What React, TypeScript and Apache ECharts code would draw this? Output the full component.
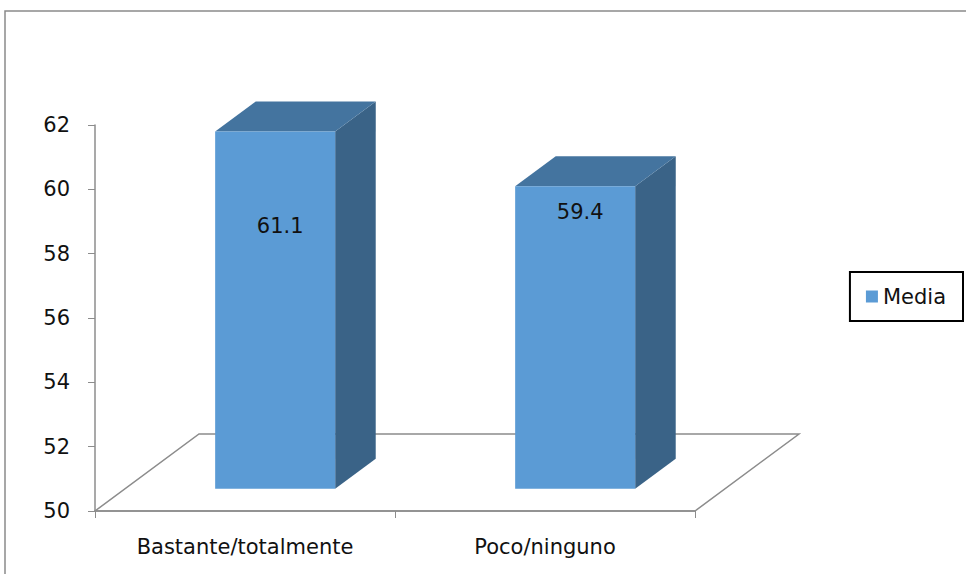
import React, { useEffect, useRef } from "react";
import * as echarts from "echarts";

// Mean score per response group
const categories = ["Bastante/totalmente", "Poco/ninguno"];
const seriesName = "Media";
const values = [61.1, 59.4];

// Value axis range
const axisMin = 50;
const axisMax = 62;
const axisStep = 2;

const FONT = "'DejaVu Sans', sans-serif";
const FONT_SIZE = 21;
const AXIS_GRAY = "#8c8c8c";
const FRONT = "#5b9bd5";
const TOP = "#44749f";
const SIDE = "#3a6387";

// Oblique projection of the floor depth (pixels for the full depth)
const DEPTH_X = 104;
const DEPTH_Y = -77;
// Bars occupy this slice of the floor depth
const BAR_FRONT = 0.29;
const BAR_BACK = 0.68;
// Vertical position of each value label below the bar top
const LABEL_DROP = [94, 26];

export default function App() {
  const ref = useRef<HTMLDivElement>(null);

  useEffect(() => {
    if (!ref.current) return;
    const chart = echarts.init(ref.current, null, { renderer: "svg" });

    const floorItem = (params: any) => {
      const cs = params.coordSys;
      const x0 = cs.x;
      const x1 = cs.x + cs.width;
      const y = cs.y + cs.height;
      return {
        type: "polygon",
        shape: {
          points: [
            [x0, y],
            [x1, y],
            [x1 + DEPTH_X, y + DEPTH_Y],
            [x0 + DEPTH_X, y + DEPTH_Y],
          ],
        },
        style: { fill: "none", stroke: AXIS_GRAY, lineWidth: 1.5 },
        silent: true,
      };
    };

    const barItem = (params: any, api: any) => {
      const idx = api.value(0);
      const val = api.value(1);
      const base = api.coord([idx, axisMin]);
      const top = api.coord([idx, val]);
      const bw = api.size([1, 0])[0] * 0.4;
      const fx = DEPTH_X * BAR_FRONT;
      const fy = DEPTH_Y * BAR_FRONT;
      const bx = DEPTH_X * BAR_BACK - fx;
      const by = DEPTH_Y * BAR_BACK - fy;
      const left = base[0] - bw / 2 + fx;
      const right = left + bw;
      const yb = base[1] + fy;
      const yt = top[1] + fy;
      return {
        type: "group",
        children: [
          {
            type: "polygon",
            shape: {
              points: [
                [right, yt],
                [right + bx, yt + by],
                [right + bx, yb + by],
                [right, yb],
              ],
            },
            style: { fill: SIDE },
          },
          {
            type: "polygon",
            shape: {
              points: [
                [left, yt],
                [right, yt],
                [right + bx, yt + by],
                [left + bx, yt + by],
              ],
            },
            style: { fill: TOP },
          },
          {
            type: "rect",
            shape: { x: left, y: yt, width: bw, height: yb - yt },
            style: { fill: FRONT },
          },
          {
            type: "text",
            x: left + bw / 2 + 5,
            y: yt + LABEL_DROP[params.dataIndex],
            style: {
              text: val.toFixed(1),
              fill: "#111",
              font: `${FONT_SIZE}px ${FONT}`,
              align: "center",
              verticalAlign: "middle",
            },
          },
        ],
      };
    };

    chart.setOption({
      animation: false,
      backgroundColor: "#fff",
      textStyle: { fontFamily: FONT },
      grid: { left: 95, top: 125, width: 600, height: 386 },
      graphic: [
        {
          type: "rect",
          shape: { x: 5, y: 11, width: 1100, height: 700 },
          style: { fill: "none", stroke: "#8a8a8a", lineWidth: 1.5 },
          silent: true,
          z: -10,
        },
      ],
      legend: {
        data: [seriesName],
        right: 3,
        top: 272,
        icon: "rect",
        itemWidth: 12,
        itemHeight: 12,
        itemGap: 9,
        borderColor: "#000",
        borderWidth: 2,
        padding: [14, 17, 14, 16],
        textStyle: { fontSize: FONT_SIZE, color: "#111", fontFamily: FONT },
      },
      xAxis: {
        type: "category",
        data: categories,
        axisLine: { lineStyle: { color: AXIS_GRAY, width: 1.5 } },
        axisTick: { show: true, length: 7, lineStyle: { color: AXIS_GRAY } },
        axisLabel: { margin: 25, fontSize: FONT_SIZE, color: "#111", fontFamily: FONT },
      },
      yAxis: {
        type: "value",
        min: axisMin,
        max: axisMax,
        interval: axisStep,
        splitLine: { show: false },
        axisLine: { show: true, lineStyle: { color: AXIS_GRAY, width: 1.5 } },
        axisTick: { show: true, length: 7, lineStyle: { color: AXIS_GRAY } },
        axisLabel: {
          margin: 25,
          fontSize: FONT_SIZE,
          color: "#111",
          fontFamily: FONT,
        },
      },
      series: [
        {
          type: "custom",
          renderItem: floorItem,
          data: [[0, axisMin]],
          silent: true,
          z: 1,
          tooltip: { show: false },
        },
        {
          type: "custom",
          name: seriesName,
          itemStyle: { color: FRONT },
          renderItem: barItem,
          data: values.map((v, i) => [i, v]),
          encode: { x: 0, y: 1 },
          z: 5,
        },
      ],
    });

    return () => chart.dispose();
  }, []);

  return (
    <div
      ref={ref}
      style={{ position: "absolute", left: 0, top: 0, width: 966, height: 574 }}
    />
  );
}
